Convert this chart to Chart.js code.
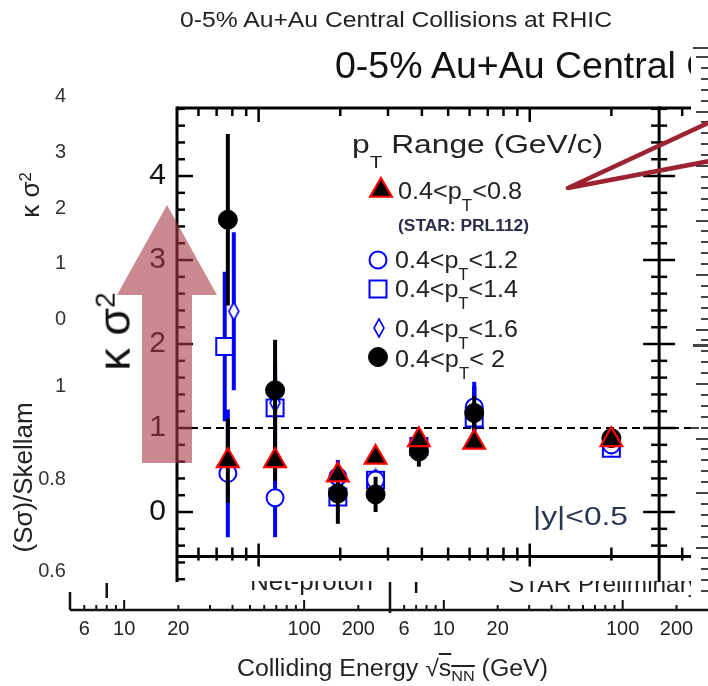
<!DOCTYPE html>
<html><head><meta charset="utf-8">
<script src="https://cdn.jsdelivr.net/npm/chart.js@4.4.1/dist/chart.umd.min.js"></script>
<style>
html,body{margin:0;padding:0;background:#fff;}
#stage{position:relative;width:708px;height:686px;overflow:hidden;font-family:"Liberation Sans",Arial,sans-serif;background:#fff;}
canvas{position:absolute;left:0;top:0;}
.t{position:absolute;white-space:nowrap;color:#222;line-height:1;}
</style></head><body>
<div id="stage">
<canvas id="bg1" width="708" height="686" style="z-index:1"></canvas>
<canvas id="bg2" width="708" height="686" style="z-index:1"></canvas>
<canvas id="main" width="708" height="686" style="z-index:3"></canvas>
<div id="panel" style="position:absolute;left:691px;top:46px;width:17px;height:556px;background:#fff;z-index:5"></div>
<svg width="708" height="686" style="position:absolute;left:0;top:0;z-index:6">
  <polygon points="167,205 217,295 192,295 192,463 142,463 142,295 117,295" fill="rgba(168,58,70,0.6)"/>
  <polyline points="710,122 568,188 710,161" fill="none" stroke="rgb(155,35,50)" stroke-width="4.5" stroke-linejoin="round" stroke-linecap="round"/>
</svg>
</div>
<script>
// ---------------- DATA ----------------
const energies   = [7.7, 11.5, 19.6, 27, 39, 62.4, 200];
const xSquare    = [7.5, 11.5, 19.6, 27, 39, 62.4, 200];
const xDiamond   = [8.1, 11.5, 19.6, 27, 39, 62.4, 200];
const ks2_pt08   = [0.61, 0.61, 0.44, 0.65, 0.86, 0.83, 0.86];
const err_pt08   = [0.50, 0.24, 0.10, 0.07, 0.05, 0.07, 0.04];
const ks2_pt12   = [0.46, 0.17, 0.42, 0.38, 0.76, 1.25, 0.80];
const err_pt12   = [0.76, 0.47, 0.20, 0.12, 0.10, 0.30, 0.04];
const ks2_pt14   = [1.97, 1.24, 0.18, 0.38, 0.78, 1.12, 0.76];
const err_pt14   = [0.89, 0.50, 0.12, 0.10, 0.08, 0.37, 0.04];
const ks2_pt16   = [2.39, 1.30, 0.35, 0.40, 0.80, 1.20, 0.80];
const err_pt16   = [0.94, 0.50, 0.15, 0.10, 0.08, 0.30, 0.04];
const ks2_pt20   = [3.48, 1.45, 0.22, 0.21, 0.72, 1.18, 0.88];
const err_pt20   = [1.02, 0.60, 0.36, 0.21, 0.18, 0.20, 0.06];
const seriesLabels = ['0.4<p_T<0.8', '0.4<p_T<1.2', '0.4<p_T<1.4', '0.4<p_T<1.6', '0.4<p_T< 2'];
const yTickLabels  = [0, 1, 2, 3, 4];
const xMajorTicks  = [10, 100];
const xMinorTicks  = [6, 7, 8, 9, 20, 30, 40, 50, 60, 70, 80, 90, 200, 365];
const bgXTickLabels = [6, 10, 20, 100, 200];
const bgXMinor     = [6, 7, 8, 9, 20, 30, 40, 50, 60, 70, 80, 90, 200];
const bgLeftTop    = [4, 3, 2, 1, 0];
const bgLeftBottom = [1, 0.8, 0.6];
const refLine = 1;          // Skellam / Poisson baseline
const xAxisAt = -0.53;      // value where the x axis line sits
const rightAxisAt = 300;    // energy where the right frame sits

// ---------------- HELPERS ----------------
const FONT = '"Liberation Sans", Arial, sans-serif';
Chart.defaults.font.family = FONT;
const stage = document.getElementById('stage');
function txt(html, o){
  const el = document.createElement('div');
  el.className = 't'; el.innerHTML = html;
  el.style.fontSize = o.size + 'px'; el.style.color = o.color || '#222';
  if (o.weight) el.style.fontWeight = o.weight;
  el.style.zIndex = o.z || 2;
  el.style.top = (o.base - 0.8465 * o.size) + 'px';
  stage.appendChild(el);
  const w = el.getBoundingClientRect().width;
  const sx = o.width ? o.width / w : 1;
  let left = o.left;
  if (o.anchor === 'right') left = o.left - w * sx;
  if (o.anchor === 'center') left = o.left - w * sx / 2;
  el.style.left = left + 'px';
  el.style.transformOrigin = '0 0';
  if (o.width) el.style.transform = 'scaleX(' + sx + ')';
  return el;
}
function rtxt(html, o){
  const el = document.createElement('div');
  el.className = 't'; el.innerHTML = html; el.style.fontSize = o.size + 'px';
  el.style.zIndex = o.z || 2; el.style.color = o.color || '#222';
  stage.appendChild(el);
  const r = el.getBoundingClientRect();
  const sx = o.len ? o.len / r.width : 1;
  el.style.left = (o.cx - r.width / 2) + 'px';
  el.style.top = (o.cy - r.height / 2) + 'px';
  el.style.transformOrigin = '50% 50%';
  el.style.transform = 'rotate(-90deg) scaleX(' + sx + ')';
  return el;
}
function line(ctx, x1, y1, x2, y2){ ctx.beginPath(); ctx.moveTo(x1, y1); ctx.lineTo(x2, y2); ctx.stroke(); }

// ---------------- BACKGROUND FIGURE ----------------
txt('0-5% Au+Au Central Collisions at RHIC', {left:180, base:28, size:22, width:432});
const topMap = v => 318 - v * 55.75;
bgLeftTop.forEach(v => txt(String(v), {left:66, base:topMap(v) + 7, size:20, anchor:'right', color:'#333'}));
const botMap = v => 385 + (1 - v) * 462.5;
bgLeftBottom.forEach(v => txt(String(v), {left:66, base:botMap(v) + 7, size:20, anchor:'right', color:'#333'}));
rtxt('κ σ<span style="font-size:0.65em;position:relative;top:-0.5em">2</span>', {cx:30, cy:195, size:26});
rtxt('(Sσ)/Skellam', {cx:23, cy:477, size:25, len:150});
txt('Net-proton', {left:250, base:590, size:25, width:123});
txt('STAR Preliminary', {left:508, base:592, size:24, width:192});
txt('Colliding Energy √<span style="text-decoration:overline">s<span style="font-size:15px;position:relative;top:5px">NN</span></span> (GeV)', {left:237, base:676, size:23, width:311});

const bgAxisPlugin = {
  id: 'bgAxis',
  afterDraw(chart, args, opts){
    const {ctx, chartArea:a, scales:{x}} = chart;
    ctx.save(); ctx.strokeStyle = '#111'; ctx.lineWidth = 2.5;
    line(ctx, a.left, a.bottom, a.right, a.bottom);
    ctx.lineWidth = 2;
    bgXMinor.forEach(v => line(ctx, x.getPixelForValue(v), a.bottom, x.getPixelForValue(v), a.bottom - 5));
    xMajorTicks.forEach(v => line(ctx, x.getPixelForValue(v), a.bottom, x.getPixelForValue(v), a.bottom - 10));
    ctx.lineWidth = 2.5;
    if (opts.first) {
      line(ctx, a.left, a.bottom, a.left, a.bottom - 18);
      line(ctx, a.right, a.bottom + 3, a.right, a.bottom - 28);
      line(ctx, x.getPixelForValue(8), a.bottom - 12, x.getPixelForValue(8), a.bottom - 27);
    } else {
      line(ctx, x.getPixelForValue(7), a.bottom - 17, x.getPixelForValue(7), a.bottom - 28);
    }
    ctx.restore();
  }
};
function bgAxis(id, padL, padR, first){
  return new Chart(document.getElementById(id), {
    type: 'scatter', data: {datasets: []},
    options: {
      responsive: false, animation: false, events: [],
      layout: {padding: {left: padL, right: padR, top: 560, bottom: 46}},
      plugins: {legend: {display: false}, tooltip: {enabled: false}, bgAxis: {first}},
      scales: {
        x: {type: 'logarithmic', min: 5, max: 300, position: 'bottom',
            grid: {display: false, drawTicks: false}, border: {display: false},
            ticks: {font: {size: 20}, color: '#222', padding: 7, maxRotation: 0, autoSkip: false, callback: v => String(v)},
            afterBuildTicks: s => { s.ticks = bgXTickLabels.map(v => ({value: v})); },
            afterFit: s => { s.height = 30; }},
        y: {display: false, min: 0, max: 1}
      }
    },
    plugins: [bgAxisPlugin]
  });
}
bgAxis('bg1', 70, 318, true);
bgAxis('bg2', 390, 0, false);

// ---------------- MAIN CHART ----------------
const dia = document.createElement('canvas'); dia.width = 14; dia.height = 22;
(function(){ const c = dia.getContext('2d'); c.strokeStyle = '#0000ff'; c.fillStyle = '#fff'; c.lineWidth = 1.6;
  c.beginPath(); c.moveTo(7,2); c.lineTo(12,11); c.lineTo(7,20); c.lineTo(2,11); c.closePath(); c.fill(); c.stroke(); })();

const pts = (xs, ys) => xs.map((x, i) => ({x, y: ys[i]}));
const datasets = [
  {label: seriesLabels[0], data: pts(energies, ks2_pt08), errors: err_pt08, barColor: '#000', barWidth: 4,
   pointStyle: 'triangle', pointRadius: 12.5, backgroundColor: '#000', borderColor: '#ff0000', borderWidth: 2.2, order: 1},
  {label: seriesLabels[1], data: pts(energies, ks2_pt12), errors: err_pt12, barColor: '#0000ff', barWidth: 4,
   pointStyle: 'circle', pointRadius: 8.5, backgroundColor: '#fff', borderColor: '#0000ff', borderWidth: 2, order: 3},
  {label: seriesLabels[2], data: pts(xSquare, ks2_pt14), errors: err_pt14, barColor: '#0000ff', barWidth: 4,
   pointStyle: 'rect', pointRadius: 12, backgroundColor: '#fff', borderColor: '#0000ff', borderWidth: 2, order: 5},
  {label: seriesLabels[3], data: pts(xDiamond, ks2_pt16), errors: err_pt16, barColor: '#0000ff', barWidth: 4,
   pointStyle: dia, pointRadius: 6, backgroundColor: '#fff', borderColor: '#0000ff', borderWidth: 1.5, order: 4},
  {label: seriesLabels[4], data: pts(energies, ks2_pt20), errors: err_pt20, barColor: '#000', barWidth: 4,
   pointStyle: 'circle', pointRadius: 9.5, backgroundColor: '#000', borderColor: '#000', borderWidth: 1, order: 2}
];

const errorBars = {
  id: 'errorBars',
  beforeDatasetDraw(chart, args){
    const ds = chart.data.datasets[args.index];
    const ctx = chart.ctx, y = chart.scales.y;
    ctx.save(); ctx.strokeStyle = ds.barColor; ctx.lineWidth = ds.barWidth;
    args.meta.data.forEach((p, i) => {
      const v = ds.data[i].y, e = ds.errors[i];
      line(ctx, p.x, y.getPixelForValue(v + e), p.x, y.getPixelForValue(v - e));
    });
    ctx.restore();
  }
};

const legendMarks = [[381, 190.5], [378, 260], [378, 289], [379, 328], [378, 357]];
const frame = {
  id: 'frame',
  beforeDraw(chart){
    const ctx = chart.ctx; ctx.save(); ctx.fillStyle = '#fff'; ctx.fillRect(80, 35, 613, 546); ctx.restore();
  },
  beforeDatasetsDraw(chart){
    const {ctx, chartArea: a, scales: {x, y}} = chart;
    ctx.save(); ctx.strokeStyle = '#000';
    ctx.setLineDash([8, 5]); ctx.lineWidth = 2;
    const y1 = y.getPixelForValue(refLine);
    line(ctx, a.left, y1, a.right, y1);
    ctx.setLineDash([]);
    const yb = y.getPixelForValue(xAxisAt), xr = x.getPixelForValue(rightAxisAt);
    ctx.lineWidth = 3;
    line(ctx, a.left, a.top, a.right, a.top);
    line(ctx, a.left, a.top - 1.5, a.left, a.bottom);
    line(ctx, xr, a.top - 1.5, xr, a.bottom);
    line(ctx, a.left, yb, a.right, yb);
    ctx.lineWidth = 2.5;
    for (let k = -4; k <= 24; k++) {
      const v = k / 5, py = y.getPixelForValue(v), major = (k % 5 === 0);
      line(ctx, a.left, py, a.left + (major ? 16 : 8), py);
      if (k >= -2) line(ctx, xr - (major ? 16 : 8), py, xr + (major ? 16 : 8), py);
    }
    xMinorTicks.forEach(v => { const px = x.getPixelForValue(v);
      line(ctx, px, a.top, px, a.top + 8); line(ctx, px, yb - 9, px, yb + 4); });
    xMajorTicks.forEach(v => { const px = x.getPixelForValue(v);
      line(ctx, px, a.top, px, a.top + 14); line(ctx, px, yb - 13, px, yb + 10); });
    ctx.restore();
  },
  afterDatasetsDraw(chart){
    const ctx = chart.ctx;
    chart.data.datasets.forEach((ds, i) => {
      const [mx, my] = legendMarks[i];
      ctx.save();
      ctx.fillStyle = ds.backgroundColor; ctx.strokeStyle = ds.borderColor; ctx.lineWidth = ds.borderWidth;
      Chart.helpers.drawPoint(ctx, {pointStyle: ds.pointStyle, radius: ds.pointRadius, rotation: 0, borderWidth: ds.borderWidth}, mx, my);
      ctx.restore();
    });
  }
};

new Chart(document.getElementById('main'), {
  type: 'scatter',
  data: {datasets},
  options: {
    responsive: false, animation: false, events: [],
    layout: {padding: {left: 0, right: 15, top: 108, bottom: 104}},
    plugins: {legend: {display: false}, tooltip: {enabled: false}},
    scales: {
      x: {type: 'logarithmic', min: 5, max: 400, display: false},
      y: {type: 'linear', min: -0.833, max: 4.81, position: 'left',
          grid: {display: false, drawTicks: false}, border: {display: false},
          ticks: {font: {size: 30}, color: '#111', padding: 11},
          afterBuildTicks: s => { s.ticks = yTickLabels.map(v => ({value: v})); },
          afterFit: s => { s.width = 177; }}
    }
  },
  plugins: [errorBars, frame]
});

// ---------------- MAIN TEXTS ----------------
txt('0-5% Au+Au Central Collisions', {left:335, base:79, size:37.5, z:4, color:'#111'});
rtxt('κ σ<span style="font-size:0.62em;position:relative;top:-0.55em">2</span>', {cx:114, cy:331, size:45, z:4, color:'#111'});
txt('p<span style="font-size:17px;position:relative;top:15px">T</span> Range (GeV/c)', {left:352, base:153, size:26, width:251, z:4});
const legendText = [
  {left:398, base:199, width:124},
  {left:395, base:268, width:123},
  {left:395, base:297, width:123},
  {left:395, base:337, width:123},
  {left:395, base:367, width:110}
];
seriesLabels.forEach((s, i) => {
  const html = s.replace('<', '&lt;').replace('_T<', '<span style="font-size:16px;position:relative;top:12px">T</span>&lt;');
  txt(html, Object.assign({size:24, z:4}, legendText[i]));
});
txt('(STAR: PRL112)', {left:398, base:232, size:16, weight:'bold', width:131, z:4, color:'#2b2b4b'});
txt('|y|&lt;0.5', {left:533, base:525, size:25, width:95, z:4, color:'#2a3550'});

// ---------------- RIGHT PANEL (cropped neighbour figure) ----------------
const panel = document.getElementById('panel');
function pdiv(l, t, w, h){ const d = document.createElement('div'); d.style.cssText = 'position:absolute;background:#444;left:'+l+'px;top:'+t+'px;width:'+w+'px;height:'+h+'px'; panel.appendChild(d); }
pdiv(2, 1, 15, 2);
for (let k = 0; k < 50; k++) { const yy = 10 + k * 10.9; if (yy > 548) break; pdiv(k % 5 === 0 ? 5 : 10, yy, k % 5 === 0 ? 12 : 7, 2); }
pdiv(2, 298, 15, 3);
pdiv(0, 381, 8, 2);
</script>
</body></html>
